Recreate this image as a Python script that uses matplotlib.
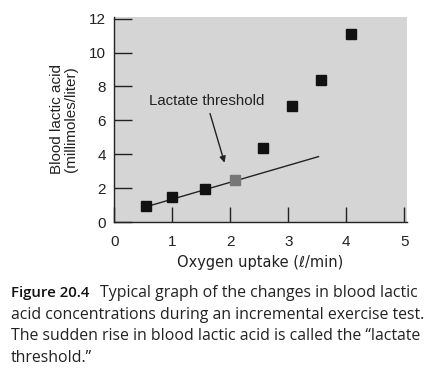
import numpy as np
import matplotlib.pyplot as plt

# oxygen uptake (l/min) and blood lactic acid (mmol/l)
uptake = [0.55, 1.0, 1.57, 2.08, 2.57, 3.06, 3.57, 4.08]
lactate = [0.97, 1.45, 1.94, 2.48, 4.36, 6.84, 8.39, 11.07]
marker_colors = ['#111111', '#111111', '#111111', '#777777',
                 '#111111', '#111111', '#111111', '#111111']

# straight fit through the low-intensity points
fit_x = [0.55, 3.52]
fit_y = [0.9, 3.86]

x_ticks = [0, 1, 2, 3, 4, 5]
y_ticks = [0, 2, 4, 6, 8, 10, 12]

caption_lines = [
    "acid concentrations during an incremental exercise test.",
    "The sudden rise in blood lactic acid is called the \u201clactate",
    "threshold.\u201d",
]

fig = plt.figure(figsize=(4.48, 3.81), dpi=100)
ax = fig.add_axes([114.3 / 448, 1 - 222 / 381, 292.4 / 448, 205 / 381])
ax.set_facecolor('#d5d5d5')

ax.plot(fit_x, fit_y, color='#222222', lw=1.0, zorder=2)
for x, y, c in zip(uptake, lactate, marker_colors):
    ax.plot(x, y, marker='s', ms=6.5, color=c, zorder=3)

ax.annotate("", xy=(1.90, 3.5), xytext=(1.65, 6.4),
            arrowprops=dict(arrowstyle='-|>', color='#222222', lw=1.0,
                            mutation_scale=9, shrinkA=0, shrinkB=0))
ax.text(1.59, 7.15, "Lactate threshold", ha='center', va='center',
        fontsize=10.8, color='#222222', family='Liberation Sans')

ax.set_xlim(0, 5.04)
ax.set_ylim(0, 12.1)
ax.set_xticks(x_ticks)
ax.set_yticks(y_ticks)
for s in ['top', 'right']:
    ax.spines[s].set_visible(False)
for s in ['left', 'bottom']:
    ax.spines[s].set_color('#222222')
    ax.spines[s].set_linewidth(1.0)
ax.tick_params(axis='y', direction='in', length=13, width=1.0, pad=6,
               labelsize=11, colors='#222222')
ax.tick_params(axis='x', direction='in', length=11, width=1.0, pad=9,
               labelsize=11, colors='#222222')
for lab in ax.get_xticklabels() + ax.get_yticklabels():
    lab.set_family('Liberation Sans')

ax.set_ylabel("Blood lactic acid\n(millimoles/liter)", fontsize=11,
              color='#222222', family='Liberation Sans', labelpad=8,
              linespacing=1.0)
ax.set_xlabel("Oxygen uptake (\u2113/min)", fontsize=10.5, color='#222222',
              family='DejaVu Sans', labelpad=5)

fig.text(11 / 448, 1 - 293 / 381, "Figure 20.4", fontsize=10.8,
         fontweight='semibold', family='Open Sans', color='#111111',
         va='center')
fig.text(100 / 448, 1 - 293 / 381, "Typical graph of the changes in blood lactic",
         fontsize=11.4, family='Open Sans', color='#222222', va='center')
for i, line in enumerate(caption_lines):
    fig.text(11 / 448, 1 - (315 + 21.5 * i) / 381, line, fontsize=11.4,
             family='Open Sans', color='#222222', va='center')

fig.savefig('out.png', dpi=100, facecolor='white')
